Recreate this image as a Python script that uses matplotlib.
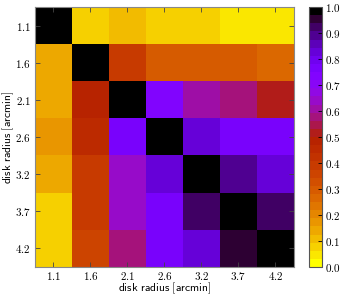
import numpy as np
import matplotlib
matplotlib.use("Agg")
import matplotlib.pyplot as plt

# radii of the disk apertures (arcmin)
radii = ["1.1", "1.6", "2.1", "2.6", "3.2", "3.7", "4.2"]

# correlation matrix, rows top -> bottom
row_11 = [1.00, 0.08, 0.10, 0.08, 0.07, 0.05, 0.05]
row_16 = [0.13, 1.00, 0.40, 0.29, 0.30, 0.30, 0.28]
row_21 = [0.13, 0.49, 1.00, 0.72, 0.61, 0.57, 0.53]
row_26 = [0.18, 0.44, 0.75, 1.00, 0.84, 0.76, 0.76]
row_32 = [0.14, 0.40, 0.64, 0.84, 1.00, 0.89, 0.82]
row_37 = [0.08, 0.38, 0.64, 0.77, 0.92, 1.00, 0.93]
row_42 = [0.07, 0.37, 0.58, 0.77, 0.84, 0.95, 1.00]

cbar_ticks = [0.0, 0.1, 0.2, 0.3, 0.4, 0.5, 0.6, 0.7, 0.8, 0.9, 1.0]

plt.rcParams["mathtext.fontset"] = "cm"

corr = np.array([row_11, row_16, row_21, row_26, row_32, row_37, row_42])
cmap = plt.get_cmap("gnuplot_r", 32)

fig = plt.figure(figsize=(3.45, 2.95), dpi=100)
ax = fig.add_axes([0.1014, 0.0949, 0.7507, 0.881])
im = ax.imshow(corr, cmap=cmap, vmin=0, vmax=1, interpolation="nearest",
               aspect="auto")

ticks = np.arange(len(radii))
ax.set_xticks(ticks)
ax.set_yticks(ticks)
ax.set_xticklabels(["$%s$" % r for r in radii], fontsize=8)
ax.set_yticklabels(["$%s$" % r for r in radii], fontsize=8)
ax.tick_params(direction="in", top=True, right=True, length=3.5,
               width=0.6, color="#444444", pad=3)
ax.tick_params(axis="x", pad=2)
for side in ["top", "left", "bottom", "right"]:
    ax.spines[side].set_color("#888888")
    ax.spines[side].set_linewidth(0.8)

label = r"$\mathsf{disk\ radius\ [arcmin]}$"
ax.set_xlabel(label, fontsize=8.3, va="center")
ax.set_ylabel(label, fontsize=8.3, va="center")
ax.xaxis.set_label_coords(0.5, -0.083)
ax.yaxis.set_label_coords(-0.103, 0.5)

cax = fig.add_axes([0.8957, 0.0949, 0.0377, 0.881])
cb = fig.colorbar(im, cax=cax, ticks=cbar_ticks)
cb.ax.set_yticklabels(["$%.1f$" % t for t in cbar_ticks], fontsize=8)
cb.ax.tick_params(direction="in", length=3, width=0.6, pad=2)
cb.outline.set_linewidth(0.8)
cb.outline.set_edgecolor("#555555")

fig.savefig("out.png", dpi=100)
